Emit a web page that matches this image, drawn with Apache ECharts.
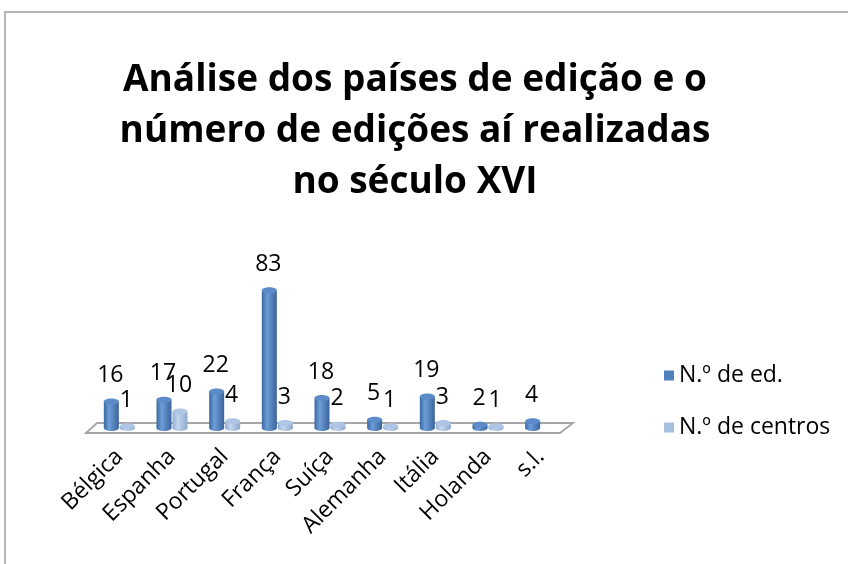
<!DOCTYPE html>
<html>
<head>
<meta charset="utf-8">
<script src="https://cdn.jsdelivr.net/npm/echarts@6/dist/echarts.min.js"></script>
<style>
  html, body { margin: 0; padding: 0; background: #fff; }
  #chart { width: 848px; height: 564px; }
</style>
</head>
<body>
<div id="chart"></div>
<script>
const paises = ["Bélgica", "Espanha", "Portugal", "França", "Suíça", "Alemanha", "Itália", "Holanda", "s.l."];
const edicoes = [16, 17, 22, 83, 18, 5, 19, 2, 4];
const centros = [1, 10, 4, 3, 2, 1, 3, 1, null];
const serieNomes = ["N.º de ed.", "N.º de centros"];

(function () {
  let dom = document.querySelector("#chart");
  let myChart = echarts.init(dom);
  const fonte = "'Open Sans', 'Liberation Sans', sans-serif";

  // cilindro 3D simples: corpo com degradê + elipses em cima e em baixo
  function cilindro(lado, cores, corTopo) {
    return function (params, api) {
      const v = api.value(1);
      if (v == null || isNaN(v)) return;
      const i = api.value(0);
      const banda = api.size([1, 0])[0];
      const base = api.coord([i, 0]);
      const topo = api.coord([i, v]);
      const w = banda * 0.285;
      const cx = base[0] + lado * banda * 0.152;
      const ry = 3;
      const grad = {
        type: "linear", x: 0, y: 0, x2: 1, y2: 0,
        colorStops: [
          { offset: 0, color: cores[0] },
          { offset: 0.35, color: cores[1] },
          { offset: 1, color: cores[2] }
        ]
      };
      return {
        type: "group",
        children: [
          { type: "ellipse", shape: { cx: cx, cy: base[1], rx: w / 2, ry: ry }, style: { fill: grad } },
          { type: "rect", shape: { x: cx - w / 2, y: topo[1], width: w, height: base[1] - topo[1] }, style: { fill: grad } },
          { type: "ellipse", shape: { cx: cx, cy: topo[1], rx: w / 2, ry: ry }, style: { fill: corTopo } },
          {
            type: "text",
            style: {
              text: String(v), x: cx - 1, y: topo[1] - 26,
              align: "center", verticalAlign: "middle",
              fontSize: 23, fontFamily: fonte, fill: "#000"
            }
          }
        ]
      };
    };
  }

  // chão em perspectiva por baixo das colunas
  function chao(params, api) {
    const banda = api.size([1, 0])[0];
    const a = api.coord([0, 0]);
    const b = api.coord([paises.length - 1, 0]);
    const x0 = a[0] - banda / 2, x1 = b[0] + banda / 2, y = a[1];
    return {
      type: "polygon",
      shape: { points: [[x0 - 7, y + 5], [x0 + 4, y - 5], [x1 + 6, y - 5], [x1 - 7, y + 5]] },
      style: { fill: "#fff", stroke: "#a6a6a6", lineWidth: 1.8 }
    };
  }

  let options = {
    animation: false,
    title: {
      text: "Análise dos países de edição e o\nnúmero de edições aí realizadas\nno século XVI",
      left: 410,
      top: 50,
      textAlign: "center",
      textStyle: { fontFamily: fonte, fontWeight: "bold", fontSize: 37, lineHeight: 51, color: "#000" }
    },
    legend: {
      orient: "vertical",
      left: 659,
      top: 357,
      itemWidth: 10,
      itemHeight: 10,
      itemGap: 25,
      icon: "rect",
      data: serieNomes,
      textStyle: { fontFamily: fonte, fontSize: 23, lineHeight: 27, color: "#000" }
    },
    graphic: [
      {
        type: "rect",
        shape: { x: 5, y: 12, width: 900, height: 600 },
        style: { fill: "none", stroke: "#a0a0a0", lineWidth: 1.5 },
        silent: true
      }
    ],
    grid: { left: 93, right: 281, top: 262, bottom: 136 },
    xAxis: {
      type: "category",
      data: paises,
      axisLine: { show: false },
      axisTick: { show: false },
      axisLabel: { rotate: 45, margin: 25, fontFamily: fonte, fontSize: 23, color: "#000", interval: 0 }
    },
    yAxis: { type: "value", min: 0, max: 100, show: false },
    series: [
      {
        type: "custom",
        silent: true,
        z: 1,
        renderItem: chao,
        data: [[0, 0]]
      },
      {
        name: serieNomes[0],
        type: "custom",
        z: 2,
        itemStyle: { color: "#4F81BD" },
        renderItem: cilindro(-1, ["#3a68a2", "#6e9dd7", "#3a649c"], "#5b8bc9"),
        data: edicoes.map((v, i) => [i, v])
      },
      {
        name: serieNomes[1],
        type: "custom",
        z: 2,
        itemStyle: { color: "#A7BFDE" },
        renderItem: cilindro(1, ["#8eaad3", "#c6d7ef", "#8ea8cd"], "#aec5e5"),
        data: centros.map((v, i) => [i, v == null ? "-" : v])
      }
    ]
  };
  myChart.setOption(options);
  window.addEventListener("resize", () => {
    myChart.resize();
  });
})();
</script>
</body>
</html>
